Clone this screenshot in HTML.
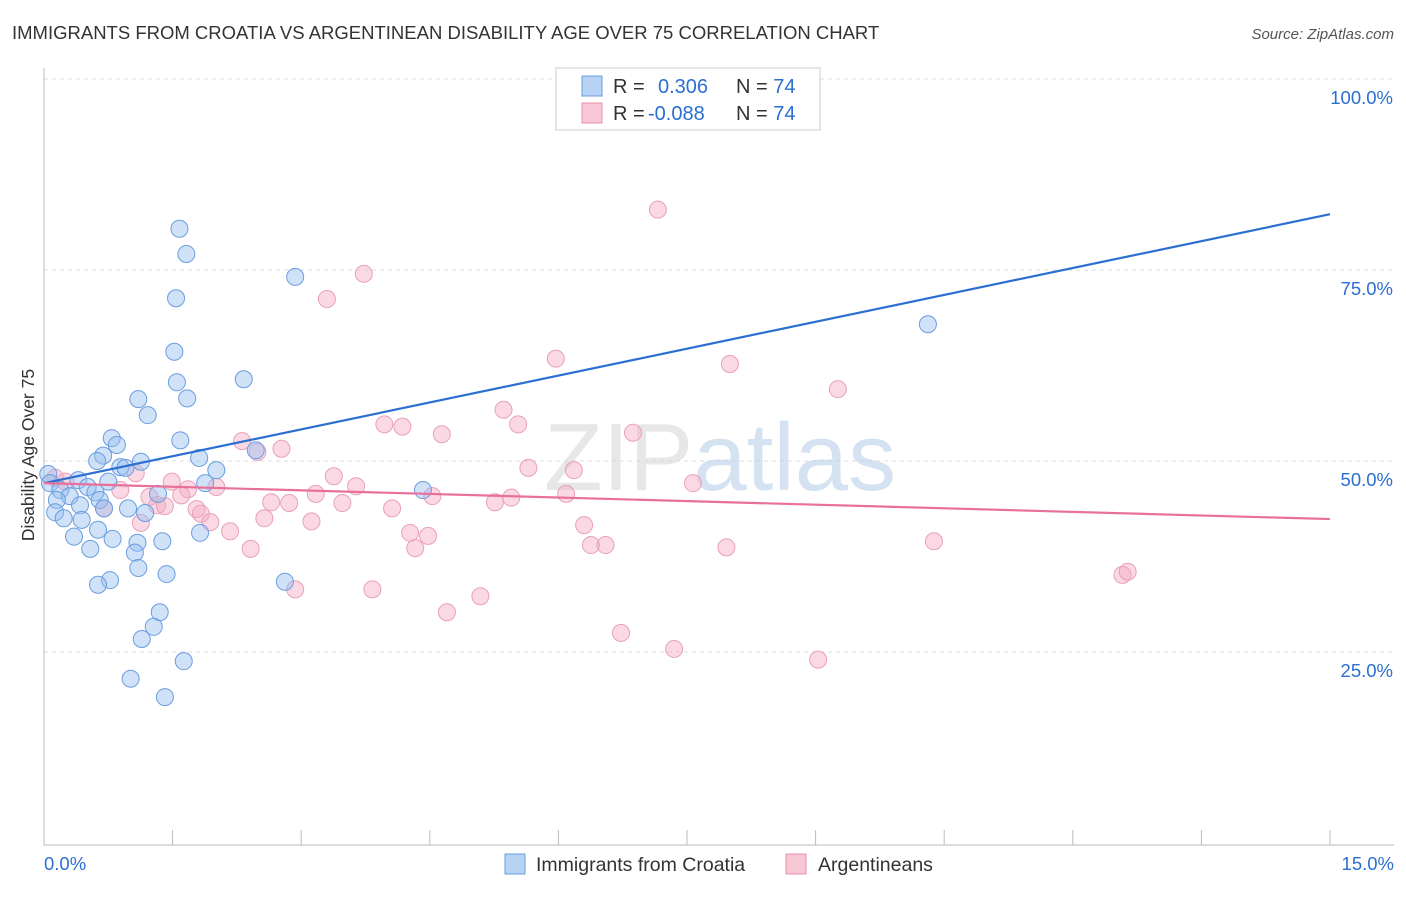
<!DOCTYPE html>
<html><head><meta charset="utf-8">
<style>
body{margin:0;background:#fff;font-family:"Liberation Sans",sans-serif;}
svg text{font-family:"Liberation Sans",sans-serif;}
</style></head>
<body>
<svg id="chart" width="1406" height="892" viewBox="0 0 1406 892">
<text x="12" y="39" font-size="18.5" fill="#333">IMMIGRANTS FROM CROATIA VS ARGENTINEAN DISABILITY AGE OVER 75 CORRELATION CHART</text>
<text x="1394" y="39" font-size="15" fill="#555" text-anchor="end" font-style="italic">Source: ZipAtlas.com</text>
<g id="grid"></g>
<g id="axes"></g>
<text x="720" y="490" font-size="96" text-anchor="middle" fill="#d8d8d8" opacity="0.6" font-family="Liberation Serif">ZIP<tspan fill="#b8cfea" font-family="Liberation Sans">atlas</tspan></text>
<g id="pts"></g>
<g id="lines"></g>
<text transform="translate(34,455) rotate(-90)" font-size="17.5" fill="#333" text-anchor="middle">Disability Age Over 75</text>
<g>
<rect x="556" y="68" width="264" height="62" fill="#fff" stroke="#ccc"/>
<rect x="582" y="76" width="20" height="20" fill="#b8d2f4" stroke="#6a9de0"/>
<rect x="582" y="103" width="20" height="20" fill="#f8c8d6" stroke="#e890a8"/>
<text x="613" y="93" font-size="20" fill="#333">R = <tspan x="658" fill="#2b6fd0">0.306</tspan><tspan x="736" fill="#333">N = </tspan><tspan fill="#2b6fd0">74</tspan></text>
<text x="613" y="120" font-size="20" fill="#333">R = <tspan x="648" fill="#2b6fd0">-0.088</tspan><tspan x="736" fill="#333">N = </tspan><tspan fill="#2b6fd0">74</tspan></text>
</g>
<g>
<rect x="505" y="854" width="20" height="20" fill="#b8d2f4" stroke="#6a9de0"/>
<text x="536" y="871" font-size="19.5" fill="#333">Immigrants from Croatia</text>
<rect x="786" y="854" width="20" height="20" fill="#f8c8d6" stroke="#e890a8"/>
<text x="818" y="871" font-size="19.5" fill="#333">Argentineans</text>
</g>
</svg>
<script>
const blueX=[1.58,1.66,1.54,2.93,1.52,1.55,1.67,2.33,1.10,1.21,1.59,0.79,0.85,0.69,0.62,1.13,0.89,0.95,1.81,2.01,2.47,1.88,10.31,4.42,1.33,0.05,0.07,0.40,0.51,0.60,0.19,0.30,0.15,0.42,0.65,0.75,0.70,0.98,1.18,0.13,0.23,0.44,0.63,0.35,0.80,1.38,1.09,1.82,0.54,1.06,1.10,1.43,0.77,0.63,2.81,1.35,1.28,1.14,1.63,1.01,1.41];
const blueY=[80.4,77.1,71.3,74.1,64.3,60.3,58.2,60.7,58.1,56.0,52.7,53.0,52.1,50.7,50.0,49.9,49.2,49.1,50.4,48.8,51.4,47.1,67.9,46.2,45.7,48.3,47.1,47.5,46.6,45.9,46.2,45.4,44.9,44.2,44.9,47.3,43.8,43.8,43.2,43.3,42.5,42.3,41.0,40.1,39.8,39.5,39.3,40.6,38.5,38.0,36.0,35.2,34.4,33.8,34.2,30.2,28.3,26.7,23.8,21.5,19.1];
const pinkX=[7.16,3.73,3.30,5.97,8.00,9.26,5.36,3.97,4.18,5.53,4.64,6.87,2.31,2.77,2.49,5.65,6.18,3.38,1.07,0.13,0.25,1.49,3.64,7.57,2.01,1.68,0.89,1.60,1.23,3.17,4.53,6.09,2.65,2.86,3.48,5.26,5.45,0.70,1.32,1.41,1.78,1.83,4.06,1.94,2.57,3.12,1.13,6.30,2.17,4.27,4.48,6.38,6.55,7.96,10.38,2.41,4.33,12.58,12.64,2.93,3.83,5.09,4.70,6.73,7.35,9.03];
const pinkY=[82.9,74.5,71.2,63.4,62.7,59.4,56.7,54.8,54.5,54.8,53.5,53.7,52.6,51.6,51.2,49.1,48.8,48.0,48.4,47.8,47.3,47.3,46.7,47.1,46.6,46.3,46.2,45.5,45.3,45.7,45.4,45.7,44.6,44.5,44.5,44.6,45.2,43.8,44.2,44.1,43.7,43.1,43.8,42.0,42.5,42.1,41.9,41.6,40.8,40.6,40.2,39.0,39.0,38.7,39.5,38.5,38.6,35.1,35.5,33.2,33.2,32.3,30.2,27.5,25.4,24.0];
const blueTrend=[47.1,82.3];
const pinkTrend=[47.1,42.4];
const yTicks=[25,50,75,100];
const yTickLabels=["25.0%","50.0%","75.0%","100.0%"];
const xMin=0,xMax=15;
const NS="http://www.w3.org/2000/svg";
function sx(v){return 44+(v-xMin)/(xMax-xMin)*1286;}
function sy(v){return 843-v*7.64;}
function mk(tag,attrs,parent){const e=document.createElementNS(NS,tag);for(const k in attrs)e.setAttribute(k,attrs[k]);document.getElementById(parent).appendChild(e);return e;}
yTicks.forEach((t,i)=>{
 const l=mk('line',{x1:44,x2:1394,y1:sy(t),y2:sy(t),stroke:'#ddd','stroke-dasharray':'4,4'},'grid');
 
 
 const tx=mk('text',{x:1393,y:sy(t)+25,'font-size':18.5,fill:'#2b6fd0','text-anchor':'end'},'grid');
 tx.textContent=yTickLabels[i];
 
 
});
const ax=mk('line',{x1:44,x2:44,y1:68,y2:845,stroke:'#bbb'},'axes');


const bx=mk('line',{x1:44,x2:1394,y1:845,y2:845,stroke:'#bbb'},'axes');


for(let i=0;i<=10;i++){
 const t=mk('line',{x1:sx(i*1.5),x2:sx(i*1.5),y1:830,y2:845,stroke:'#bbb'},'axes');
 
 
}
const xl0=mk('text',{x:44,y:870,'font-size':18.5,fill:'#2b6fd0'},'axes');xl0.textContent='0.0%';


const xl1=mk('text',{x:1394,y:870,'font-size':18.5,fill:'#2b6fd0','text-anchor':'end'},'axes');xl1.textContent='15.0%';


pinkX.forEach((x,i)=>{
 const c=mk('circle',{cx:sx(x),cy:sy(pinkY[i]),r:8.5,fill:'rgba(244,170,195,0.45)',stroke:'#eaa0b8','stroke-width':1},'pts');
 
 
});
blueX.forEach((x,i)=>{
 const c=mk('circle',{cx:sx(x),cy:sy(blueY[i]),r:8.5,fill:'rgba(150,190,240,0.45)',stroke:'#6a9de0','stroke-width':1},'pts');
 
 
});
const bl=mk('line',{x1:sx(0),y1:sy(blueTrend[0]),x2:sx(15),y2:sy(blueTrend[1]),stroke:'#2b6fd0','stroke-width':2.2},'lines');


const pl=mk('line',{x1:sx(0),y1:sy(pinkTrend[0]),x2:sx(15),y2:sy(pinkTrend[1]),stroke:'#e8709a','stroke-width':2.2},'lines');


</script>
</body></html>
